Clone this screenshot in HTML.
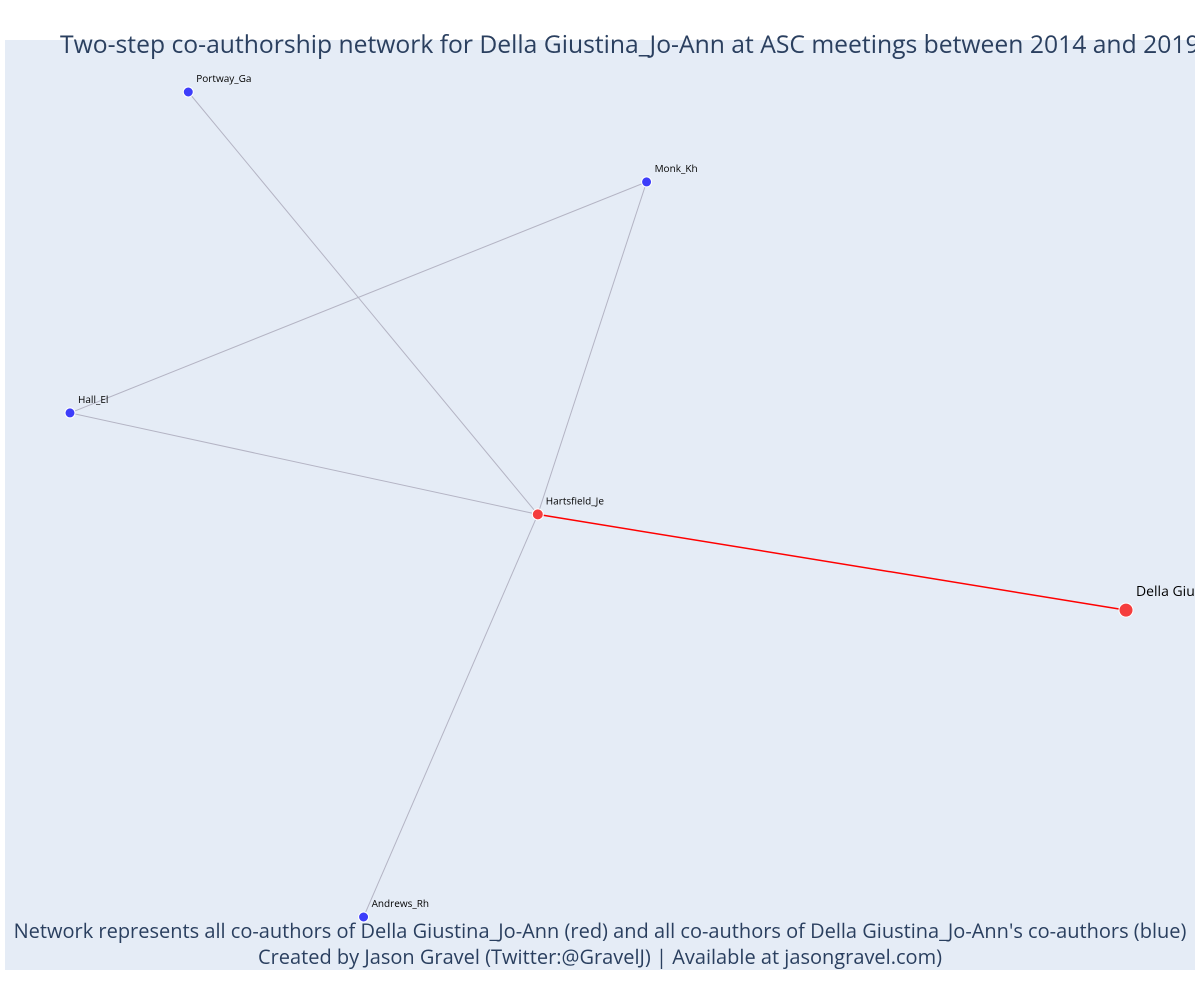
<!DOCTYPE html>
<html><head><meta charset="utf-8"><style>
html,body{margin:0;padding:0;background:#fff;overflow:hidden}
svg{display:block;font-family:"Open Sans","Liberation Sans",sans-serif}
</style></head><body>
<svg width="1200" height="1000" id="chart">
<defs><clipPath id="pc"><rect x="0" y="0" width="1195" height="1000"/></clipPath></defs>
<rect x="5" y="40" width="1190" height="930" fill="#e5ecf6"/>
<g clip-path="url(#pc)">
<g id="edges"></g>
<g id="nodes"></g>
<text x="60" y="53" font-size="24.7" fill="#2a3f5f">Two-step co-authorship network for Della Giustina_Jo-Ann at ASC meetings between 2014 and 2019</text>
</g>
<text x="600" y="938" font-size="20" fill="#2a3f5f" text-anchor="middle">Network represents all co-authors of Della Giustina_Jo-Ann (red) and all co-authors of Della Giustina_Jo-Ann's co-authors (blue)</text>
<text x="600" y="964" font-size="20" fill="#2a3f5f" text-anchor="middle">Created by Jason Gravel (Twitter:@GravelJ) | Available at jasongravel.com)</text>
</svg>
<script>
const names = ["Della Giustina_Jo-Ann","Hartsfield_Je","Portway_Ga","Monk_Kh","Hall_El","Andrews_Rh"];
const nodeX = [1.0, 0.443, 0.112, 0.546, 0.0, 0.278];
const nodeY = [0.372, 0.488, 1.0, 0.891, 0.611, 0.0];
const groups = ["ego","first","second","second","second","second"];
const edgeFrom = [0,1,1,1,1,4];
const edgeTo = [1,2,3,4,5,3];
const X0=70, X1=1126, Y0=917, Y1=92;
function sx(v){return X0+v*(X1-X0);}
function sy(v){return Y0-v*(Y0-Y1);}
const NS="http://www.w3.org/2000/svg";
const eg=document.getElementById('edges'), ng=document.getElementById('nodes');
edgeFrom.forEach((a,i)=>{
  const b=edgeTo[i];
  const l=document.createElementNS(NS,'line');
  l.setAttribute('x1',sx(nodeX[a]));l.setAttribute('y1',sy(nodeY[a]));
  l.setAttribute('x2',sx(nodeX[b]));l.setAttribute('y2',sy(nodeY[b]));
  const red=(a===0||b===0);
  l.setAttribute('stroke',red?'#ff0000':'#b4b4c4');
  l.setAttribute('stroke-width',red?1.5:1);
  
  
  eg.appendChild(l);
});
names.forEach((n,i)=>{
  const cx=sx(nodeX[i]), cy=sy(nodeY[i]);
  const c=document.createElementNS(NS,'circle');
  c.setAttribute('cx',cx);c.setAttribute('cy',cy);
  c.setAttribute('r',groups[i]==='ego'?7:(groups[i]==='first'?5.5:5));
  c.setAttribute('fill',groups[i]==='second'?'#3d3dfa':'#f53d3d');
  c.setAttribute('stroke','#fff');c.setAttribute('stroke-width',1);
  
  
  ng.appendChild(c);
  const t=document.createElementNS(NS,'text');
  const big=groups[i]==='ego';
  t.setAttribute('x',cx+(big?10:8));t.setAttribute('y',cy-(big?14:10));
  t.setAttribute('font-size',big?14:10);
  t.setAttribute('fill','#000');
  t.textContent=n;
  
  
  ng.appendChild(t);
});
</script>
</body></html>
